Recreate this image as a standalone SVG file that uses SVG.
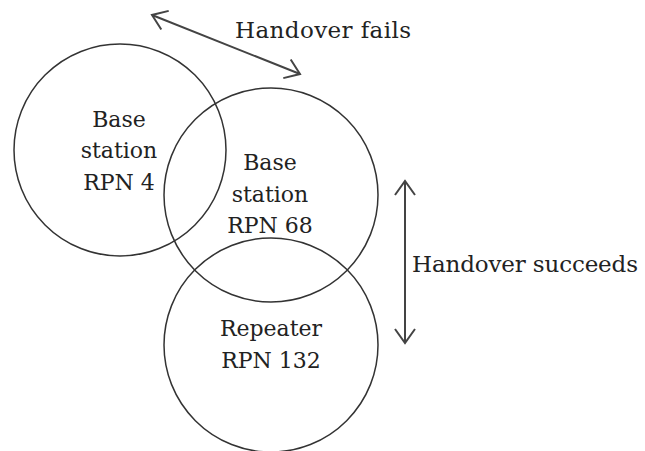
<svg xmlns="http://www.w3.org/2000/svg" width="645" height="451" viewBox="0 0 645 451">
<style>
.c{fill:none;stroke:#333;stroke-width:1.5}
.t{font-family:"DejaVu Serif","Liberation Serif",serif;font-size:22px;fill:#222;text-anchor:middle}
.l{font-family:"DejaVu Serif","Liberation Serif",serif;font-size:23px;fill:#222}
.a{fill:none;stroke:#444;stroke-width:2}
</style>
<defs>
<marker id="ah" markerUnits="userSpaceOnUse" markerWidth="20" markerHeight="24" refX="15" refY="12" orient="auto-start-reverse" viewBox="0 0 20 24">
<path d="M1,2 L15,12 L1,22" fill="none" stroke="#444" stroke-width="2"/>
</marker>
</defs>
<rect width="645" height="451" fill="#fff"/>
<g id="bs4">
<circle class="c" cx="120" cy="150" r="106"/>
<text class="t" x="119" y="127">Base</text>
<text class="t" x="119" y="158">station</text>
<text class="t" x="119" y="190">RPN 4</text>
</g>
<g id="bs68">
<circle class="c" cx="271" cy="195" r="107"/>
<text class="t" x="270" y="170">Base</text>
<text class="t" x="270" y="202">station</text>
<text class="t" x="270" y="233">RPN 68</text>
</g>
<g id="rep132">
<circle class="c" cx="271" cy="345" r="107"/>
<text class="t" x="271" y="336">Repeater</text>
<text class="t" x="271" y="368">RPN 132</text>
</g>
<g id="connectors">
<line class="a" x1="152" y1="15" x2="300" y2="74" marker-start="url(#ah)" marker-end="url(#ah)"/>
<line class="a" x1="405" y1="181" x2="405" y2="343" marker-start="url(#ah)" marker-end="url(#ah)"/>
</g>
<g id="labels">
<text class="l" x="235" y="38" textLength="176" lengthAdjust="spacing">Handover fails</text>
<text class="l" x="412" y="272" textLength="226" lengthAdjust="spacing">Handover succeeds</text>
</g>
</svg>
